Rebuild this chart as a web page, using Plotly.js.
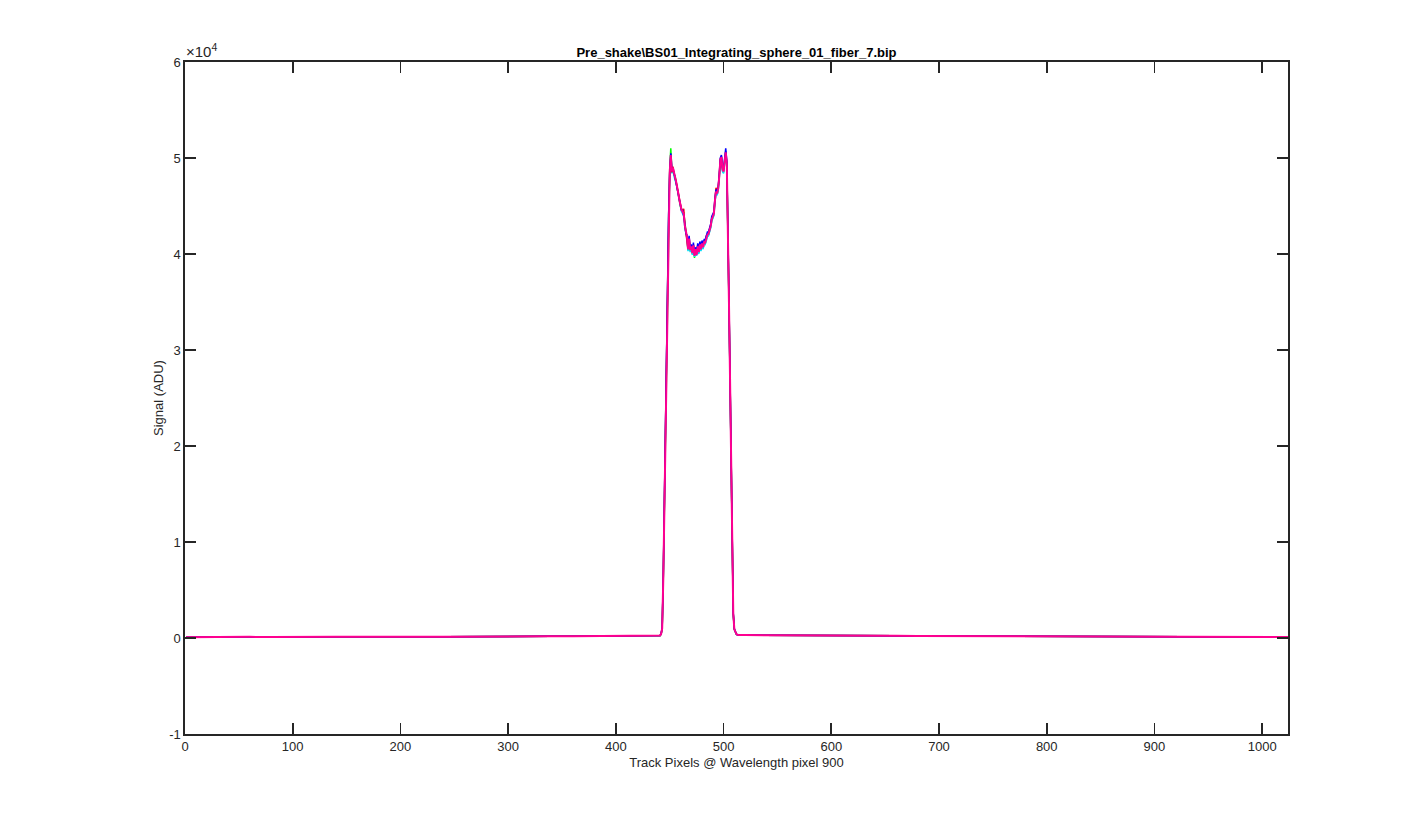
<!DOCTYPE html>
<html>
<head>
<meta charset="utf-8">
<script src="https://cdn.plot.ly/plotly-3.0.1.min.js"></script>
<style>html,body{margin:0;padding:0;background:#fff;}#chart{width:1425px;height:825px;}</style>
</head>
<body>
<div id="chart"></div>
<script>
// Track pixel positions
const xLeft = [1,20,40,60,80,100,120,140,160,180,200,220,240,260,280,300,320,340,360,380,400,420,440];
const xPeak = [441,442,443,444,445,446,447,448,449,450,451,452,453,454,455,456,457,458,459,460,
  461,462,463,464,465,466,467,468,469,470,471,472,473,474,475,476,477,478,479,480,
  481,482,483,484,485,486,487,488,489,490,491,492,493,494,495,496,497,498,499,500,
  501,502,503,504,505,506,507,508,509,510,511,512,513,514,515];
const xRight = [520,540,560,580,600,620,640,660,680,700,720,740,760,780,800,820,840,860,880,900,920,940,960,980,1000,1024];

// Baseline signal (ADU) outside the fiber trace
const baseLeft = [80,110,90,120,100,130,110,120,140,120,150,130,140,160,150,170,160,180,170,190,200,210,220];
const baseRight = [300,280,270,260,250,240,230,230,220,210,200,200,190,180,170,170,160,150,150,140,130,130,120,110,100,100];

// Peak signal (ADU) for each frame
const peakGreen = [240,390,980,5900,13900,21900,29900,37400,44100,48900,
  51000,48700,48900,48200,48100,47400,47100,46200,45700,44900,
  44700,44300,44300,42900,42400,41700,40400,41500,40300,40600,
  40000,40800,39600,40400,40200,40700,40100,40900,40400,41000,
  40600,41200,41100,41700,41900,42000,42400,42800,43500,43800,
  44100,45500,46400,46200,46700,48000,49700,50000,48700,48500,
  49700,50500,49300,43900,34900,26900,17900,8900,2400,880,
  490,370,320,300,290];
const peakCyan = [245,395,990,5950,13950,21950,29950,37450,43900,48300,
  50100,48400,48800,48100,47800,47300,46800,46100,45400,44800,
  44400,44200,44000,42800,42100,41600,40300,41400,40200,40600,
  39900,40700,39700,40300,39800,40600,40000,40800,40300,40900,
  40500,41100,41000,41600,41800,41900,42300,42700,43400,43700,
  44000,45400,46300,46100,46600,47900,49600,49900,48600,48400,
  49600,50400,49200,43800,34800,26800,17800,8800,2450,870,
  480,360,320,295,285];
const peakRed = [255,410,1020,6050,14100,22100,30100,37600,44000,48400,
  50200,48500,49100,48400,48000,47500,46900,46300,45600,45000,
  44600,44500,44700,43100,42200,41900,40500,41700,40500,40900,
  40200,41000,39900,40600,40000,40900,40300,41100,40600,41200,
  40800,41400,41300,41900,42100,42200,42600,43000,43700,44000,
  44300,45700,46900,46400,46900,48200,49900,50200,48900,48700,
  49900,50700,49500,44100,35100,27100,18100,9100,2550,920,
  510,385,335,315,305];
const peakBlue = [260,420,1100,6200,14300,22300,30200,37700,44200,48600,
  50500,48900,48800,48500,47900,47600,46800,46400,45500,45100,
  44500,44600,44000,43200,42100,42000,40700,41900,40600,41000,
  40300,41200,40000,40700,40200,41100,40500,41300,40800,41400,
  41000,41500,41500,42000,42300,42300,42700,43100,43900,44100,
  44400,45800,46700,46600,47000,48300,50000,50300,49000,48900,
  50100,51000,49700,44300,35300,27200,18200,9200,2600,950,
  520,390,340,320,310];
const peakMagenta = [250,400,1000,6000,14000,22000,30000,37500,44000,48500,
  50300,48600,49000,48300,48000,47500,47000,46300,45600,45000,
  44600,44400,44200,43000,42300,41800,40500,41600,40400,40800,
  40100,40900,39800,40500,39900,40800,40200,41000,40500,41100,
  40700,41300,41200,41800,42000,42100,42500,42900,43600,43900,
  44200,45600,46500,46300,46800,48100,49800,50100,48800,48600,
  49800,50600,49400,44000,35000,27000,18000,9000,2500,900,
  500,380,330,310,300];

const yTickVals = [-10000,0,10000,20000,30000,40000,50000,60000];
const yTickText = ['-1','0','1','2','3','4','5','6'];
const xTickVals = [0,100,200,300,400,500,600,700,800,900,1000];

const xAll = xLeft.concat(xPeak, xRight);
const series = [
  {y: peakGreen, color: '#00ff00', w: 1.5},
  {y: peakCyan, color: '#00e0ff', w: 1.5},
  {y: peakRed, color: '#ff0000', w: 1.5},
  {y: peakBlue, color: '#0000ff', w: 1.5},
  {y: peakMagenta, color: '#ff0090', w: 2}
];
const traces = series.map(s => ({
  type: 'scatter', mode: 'lines',
  x: xAll, y: baseLeft.concat(s.y, baseRight),
  line: {color: s.color, width: s.w},
  hoverinfo: 'skip', showlegend: false
}));

const axCol = '#262626';
const layout = {
  width: 1425, height: 825,
  margin: {l: 185, r: 137, t: 62, b: 91},
  paper_bgcolor: '#ffffff', plot_bgcolor: '#ffffff',
  font: {family: 'Liberation Sans, Arial, sans-serif', size: 13, color: axCol},
  title: {text: '<b>Pre_shake\\BS01_Integrating_sphere_01_fiber_7.bip</b>',
    font: {size: 13, color: '#000'}, x: 0.5, xref: 'paper', y: 1 - 52/825, yref: 'container', yanchor: 'middle'},
  xaxis: {
    range: [0, 1024], tickvals: xTickVals, ticks: 'inside', ticklen: 11, tickwidth: 1.6, tickcolor: axCol,
    showline: true, linecolor: axCol, linewidth: 1.6, mirror: 'ticks', showgrid: false, zeroline: false,
    title: {text: 'Track Pixels @ Wavelength pixel 900', font: {size: 13, color: axCol}, standoff: 4},
    tickfont: {size: 13, color: axCol}
  },
  yaxis: {
    range: [-10000, 60000], tickvals: yTickVals, ticktext: yTickText, ticks: 'inside', ticklen: 11, tickwidth: 1.6, tickcolor: axCol,
    showline: true, linecolor: axCol, linewidth: 1.6, mirror: 'ticks', showgrid: false, zeroline: false,
    title: {text: 'Signal (ADU)', font: {size: 13, color: axCol}, standoff: 2},
    tickfont: {size: 13, color: axCol}
  },
  annotations: [{
    text: '×10<sup>4</sup>', xref: 'paper', yref: 'paper', x: 0, y: 1, xanchor: 'left', yanchor: 'bottom',
    showarrow: false, font: {size: 15, color: axCol}, xshift: -1, yshift: 0
  }]
};
Plotly.newPlot('chart', traces, layout, {staticPlot: true, displayModeBar: false});
</script>
</body>
</html>
